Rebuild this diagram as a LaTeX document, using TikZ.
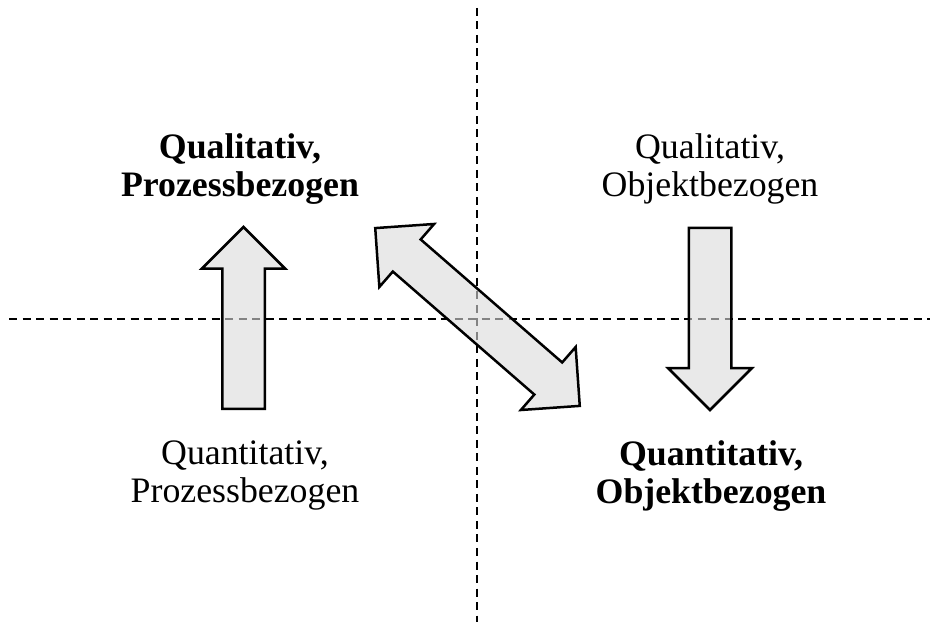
\documentclass[tikz,border=0pt]{standalone}
\usepackage{fontspec}
\setmainfont{Liberation Serif}
\usetikzlibrary{positioning,shapes.arrows}
\tikzset{
  quadrant/.style={align=center, font=\fontsize{35.8}{38}\selectfont},
  field/.style={align=center, font=\fontsize{35.8}{38}\selectfont\bfseries},
  axisline/.style={draw=black, line width=1.6pt, dash pattern=on 8pt off 5.5pt},
  blockarrow/.style={single arrow, draw=black, line width=2.5pt, fill=black!14,
    fill opacity=0.6, line join=miter, inner sep=20pt, outer sep=0pt,
    minimum height=182pt, single arrow head extend=20.5pt},
  swaparrow/.style={double arrow, draw=black, line width=2.5pt, fill=black!14,
    fill opacity=0.6, line join=miter, inner sep=20pt, outer sep=0pt,
    minimum height=271pt, double arrow head extend=20.5pt}
}

\begin{document}
\begin{tikzpicture}[x=1pt,y=1pt]
  \useasboundingbox (0,0) rectangle (933,626);
  % quadrant lines
  \coordinate (west) at (9,307);
  \coordinate (east) at (930,307);
  \coordinate (north) at (477,618);
  \coordinate (south) at (477,4);
  \draw[axisline] (west) -- (east);
  \draw[axisline] (north) -- (south);
  % quadrant labels
  \node[field] (qualproz) at (240,457) {Qualitativ,\\Prozessbezogen};
  \node[quadrant] (qualobj) at (710,457) {Qualitativ,\\Objektbezogen};
  \node[quadrant] (quantproz) at (245,150) {Quantitativ,\\Prozessbezogen};
  \node[field] (quantobj) at (711,150) {Quantitativ,\\Objektbezogen};
  % arrows
  \node[blockarrow, rotate=90, anchor=tail] (uparrow) at (243.5,217) {};
  \node[blockarrow, rotate=-90, anchor=tail] (downarrow) at (710,398) {};
  \node[swaparrow, rotate=-41] (diagarrow) at (477.5,309) {};
\end{tikzpicture}
\end{document}
